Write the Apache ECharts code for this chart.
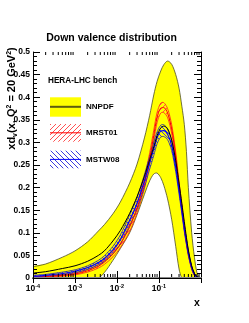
<!DOCTYPE html>
<html><head><meta charset="utf-8">
<script src="https://cdn.jsdelivr.net/npm/echarts@6/dist/echarts.min.js"></script>
<style>html,body{margin:0;padding:0;background:#fff}#c{width:249px;height:323px}</style>
</head><body><div id="c"></div>
<script>
// ---- data ----
const xGrid = [1e-4,2e-4,5e-4,1e-3,2e-3,3.6e-3,5e-3,8e-3,0.012,0.02,0.03,0.045,0.06,0.075,0.09,0.11,0.13,0.16,0.2,0.25,0.3,0.35,0.4,0.45,0.5,0.6,0.7,0.8,0.9,1.0];
const nnpdfUpper = [0.025,0.031,0.046,0.060,0.080,0.104,0.118,0.142,0.168,0.21,0.252,0.31,0.36,0.405,0.435,0.458,0.472,0.48,0.473,0.45,0.42,0.38,0.34,0.28,0.20,0.10,0.045,0.012,0.002,0];
const nnpdfLower = [0,0,0,0,0,0,0.012,0.039,0.065,0.10,0.14,0.185,0.215,0.23,0.232,0.222,0.205,0.175,0.13,0.07,0.02,0,0,0,0,0,0,0,0,0];
const nnpdfCentral = [0.011,0.014,0.021,0.027,0.037,0.05,0.06,0.082,0.105,0.143,0.18,0.225,0.262,0.29,0.315,0.332,0.336,0.33,0.305,0.26,0.21,0.165,0.125,0.09,0.062,0.027,0.01,0.003,0.0005,0];
const mstwCentral = [0.004,0.006,0.01,0.015,0.023,0.034,0.043,0.062,0.085,0.128,0.165,0.215,0.255,0.285,0.31,0.325,0.326,0.318,0.293,0.245,0.195,0.15,0.11,0.08,0.055,0.023,0.008,0.002,0.0003,0];
const mstwError = [0.002,0.002,0.003,0.003,0.004,0.005,0.006,0.008,0.01,0.012,0.013,0.014,0.014,0.014,0.013,0.013,0.013,0.012,0.011,0.01,0.009,0.008,0.007,0.006,0.005,0.003,0.002,0.001,0,0];
const mrstCentral = [0.002,0.003,0.006,0.009,0.016,0.026,0.035,0.053,0.075,0.113,0.155,0.21,0.265,0.315,0.355,0.376,0.377,0.365,0.33,0.27,0.205,0.155,0.112,0.08,0.054,0.022,0.007,0.0015,0.0002,0];
const mrstError = [0.001,0.001,0.002,0.002,0.003,0.004,0.005,0.006,0.008,0.01,0.011,0.012,0.012,0.012,0.011,0.011,0.011,0.01,0.01,0.009,0.008,0.007,0.006,0.005,0.004,0.003,0.002,0.001,0,0];
const legendLabels = ['NNPDF','MRST01','MSTW08'];
const legendTitle = 'HERA-LHC bench';
const chartTitle = 'Down valence distribution';
const xDecades = [1e-4,1e-3,1e-2,1e-1,1];
const yMin = 0, yMax = 0.5, yStep = 0.05;

// ---- helpers ----
const FONT = '"Liberation Sans", Arial, Helvetica, sans-serif';
function hatch(color, dir) {
  const s = 5;
  const c = document.createElement('canvas'); c.width = s; c.height = s;
  const g = c.getContext('2d');
  g.strokeStyle = color; g.lineWidth = 1;
  g.beginPath();
  if (dir > 0) {
    g.moveTo(-1, s + 1); g.lineTo(s + 1, -1);
    g.moveTo(-1, 1); g.lineTo(1, -1);
    g.moveTo(s - 1, s + 1); g.lineTo(s + 1, s - 1);
  } else {
    g.moveTo(-1, -1); g.lineTo(s + 1, s + 1);
    g.moveTo(s - 1, -1); g.lineTo(s + 1, 1);
    g.moveTo(-1, s - 1); g.lineTo(1, s + 1);
  }
  g.stroke();
  return { image: c, repeat: 'repeat' };
}
const redHatch = hatch('#ff5050', 1);
const blueHatch = hatch('#3a3ae0', -1);
const SM = 0.3;

function bandSeries(upper, lower, fill, stroke, lw, z) {
  return {
    type: 'custom', coordinateSystem: 'cartesian2d', clip: true, silent: true, z,
    data: [[0.01, 0.1]], encode: { x: 0, y: 1 },
    renderItem(params, api) {
      const up = xGrid.map((x, i) => api.coord([x, upper[i]]));
      const lo = xGrid.map((x, i) => api.coord([x, lower[i]]));
      const poly = up.concat(lo.slice(0, -1).reverse());
      const children = [{ type: 'polygon', shape: { points: poly, smooth: SM }, style: { fill: fill, stroke: null } }];
      if (stroke) {
        children.push({ type: 'polyline', shape: { points: up, smooth: SM }, style: { stroke, lineWidth: lw, fill: null } });
        children.push({ type: 'polyline', shape: { points: lo, smooth: SM }, style: { stroke, lineWidth: lw, fill: null } });
      }
      return { type: 'group', children };
    }
  };
}
function lineSeries(vals, color, w, z) {
  return { type: 'line', data: xGrid.map((x, i) => [x, vals[i]]), showSymbol: false, symbol: 'none',
    smooth: SM, lineStyle: { color, width: w }, z, silent: true, clip: true };
}
const add = (a, b, s) => a.map((v, i) => Math.max(0, v + s * b[i]));

const xMinor = [];
for (let k = 0; k < xDecades.length - 1; k++) for (let m = 2; m <= 9; m++) xMinor.push(xDecades[k] * m);

const chart = echarts.init(document.getElementById('c'), null, { renderer: 'canvas' });
const axisCommon = { axisLine: { lineStyle: { color: '#000', width: 1 } } };
chart.setOption({
  animation: false,
  backgroundColor: '#fff',
  grid: { left: 33, right: 48, top: 52, bottom: 45 },
  xAxis: [
    { type: 'log', logBase: 10, min: 1e-4, max: 1, position: 'bottom', z: 10,
      axisLine: { lineStyle: { color: '#888', width: 2 } },
      axisTick: { inside: true, length: 7, lineStyle: { color: '#000' } },
      splitLine: { show: false },
      axisLabel: { margin: 5, showMaxLabel: false,
        formatter: v => v >= 1 ? '' : '{b|10}{s|' + Math.round(Math.log10(v)) + '}',
        rich: { b: { fontFamily: FONT, fontWeight: 'bold', fontSize: 8.5, color: '#000', lineHeight: 10, verticalAlign: 'bottom' },
                s: { fontFamily: FONT, fontWeight: 'bold', fontSize: 5.5, color: '#000', lineHeight: 6, verticalAlign: 'top' } } } },
    { type: 'log', logBase: 10, min: 1e-4, max: 1, position: 'top', z: 10, ...axisCommon,
      axisTick: { inside: true, length: 5, lineStyle: { color: '#000' } },
      splitLine: { show: false }, axisLabel: { show: false } }
  ],
  yAxis: [
    { type: 'value', min: yMin, max: yMax, interval: yStep, position: 'left', z: 10, ...axisCommon,
      axisTick: { inside: true, length: 7, lineStyle: { color: '#000' } },
      minorTick: { show: true, splitNumber: 5, length: 4, lineStyle: { color: '#000' } },
      splitLine: { show: false },
      axisLabel: { margin: 3, fontFamily: FONT, fontWeight: 'bold', fontSize: 8.5, color: '#000',
        formatter: v => v === 0 ? '0' : String(+v.toFixed(2)) } },
    { type: 'value', min: yMin, max: yMax, interval: yStep, position: 'right', z: 10, ...axisCommon,
      axisTick: { inside: true, length: 7, lineStyle: { color: '#000' } },
      minorTick: { show: true, splitNumber: 5, length: 4, lineStyle: { color: '#000' } },
      splitLine: { show: false }, axisLabel: { show: false } }
  ],
  series: [
    bandSeries(nnpdfUpper, nnpdfLower, '#ffff00', '#4d4d26', 0.8, 1),
    bandSeries(add(mrstCentral, mrstError, 1), add(mrstCentral, mrstError, -1), redHatch, '#ff2020', 0.8, 2),
    bandSeries(add(mstwCentral, mstwError, 1), add(mstwCentral, mstwError, -1), blueHatch, '#2020b0', 0.8, 3),
    lineSeries(mrstCentral, '#ff0000', 1, 4),
    lineSeries(mstwCentral, '#0000ff', 1.2, 5),
    lineSeries(nnpdfCentral, '#000000', 1, 6),
    { type: 'custom', coordinateSystem: 'cartesian2d', z: 11, silent: true,
      data: xMinor.map(v => [v, 0]), encode: { x: 0, y: 1 },
      renderItem(params, api) {
        const v = xMinor[params.dataIndex];
        const b = api.coord([v, yMin]); const t = api.coord([v, yMax]);
        return { type: 'group', children: [
          { type: 'line', shape: { x1: b[0], y1: b[1] - 1, x2: b[0], y2: b[1] - 4 }, style: { stroke: '#000', lineWidth: 1 } },
          { type: 'line', shape: { x1: t[0], y1: t[1], x2: t[0], y2: t[1] + 3 }, style: { stroke: '#000', lineWidth: 1 } }
        ] };
      } }
  ],
  graphic: [
    { type: 'text', z: 100, x: 111.5, y: 38, style: { text: chartTitle, font: 'bold 10.5px ' + FONT, fill: '#000', align: 'center', verticalAlign: 'middle' } },
    { type: 'text', z: 100, x: 12, y: 98.5, rotation: Math.PI / 2,
      style: { text: '{a|xd}{b|v}{a|(x, Q}{c|2}{a| = 20 GeV}{c|2}{a|)}', align: 'center', verticalAlign: 'middle',
        rich: { a: { font: 'bold 11px ' + FONT, fill: '#000', lineHeight: 13, verticalAlign: 'middle' },
                b: { font: 'bold 7px ' + FONT, fill: '#000', lineHeight: 7, verticalAlign: 'bottom' },
                c: { font: 'bold 7px ' + FONT, fill: '#000', lineHeight: 7, verticalAlign: 'top' } } } },
    { type: 'text', z: 100, x: 197, y: 303, style: { text: 'x', font: 'bold 10.5px ' + FONT, fill: '#000', align: 'center', verticalAlign: 'middle' } },
    { type: 'text', z: 100, x: 48, y: 81, style: { text: legendTitle, font: 'bold 8.2px ' + FONT, fill: '#000', align: 'left', verticalAlign: 'middle' } },
    { type: 'rect', z: 100, shape: { x: 50, y: 97.3, width: 31, height: 19.4 }, style: { fill: '#ffff00' } },
    { type: 'line', z: 101, shape: { x1: 50, y1: 106.8, x2: 81, y2: 106.8 }, style: { stroke: '#5c5c10', lineWidth: 2 } },
    { type: 'text', z: 100, x: 86, y: 106.8, style: { text: legendLabels[0], font: 'bold 8px ' + FONT, fill: '#000', align: 'left', verticalAlign: 'middle' } },
    { type: 'rect', z: 100, shape: { x: 50, y: 124, width: 31, height: 17.7 }, style: { fill: redHatch } },
    { type: 'line', z: 101, shape: { x1: 50, y1: 132.8, x2: 81, y2: 132.8 }, style: { stroke: '#ff0000', lineWidth: 1 } },
    { type: 'text', z: 100, x: 86, y: 132.8, style: { text: legendLabels[1], font: 'bold 8px ' + FONT, fill: '#000', align: 'left', verticalAlign: 'middle' } },
    { type: 'rect', z: 100, shape: { x: 50, y: 150.7, width: 31, height: 17.6 }, style: { fill: blueHatch } },
    { type: 'line', z: 101, shape: { x1: 50, y1: 159.4, x2: 81, y2: 159.4 }, style: { stroke: '#0000ff', lineWidth: 1 } },
    { type: 'text', z: 100, x: 86, y: 159.4, style: { text: legendLabels[2], font: 'bold 8px ' + FONT, fill: '#000', align: 'left', verticalAlign: 'middle' } }
  ]
});
</script></body></html>
